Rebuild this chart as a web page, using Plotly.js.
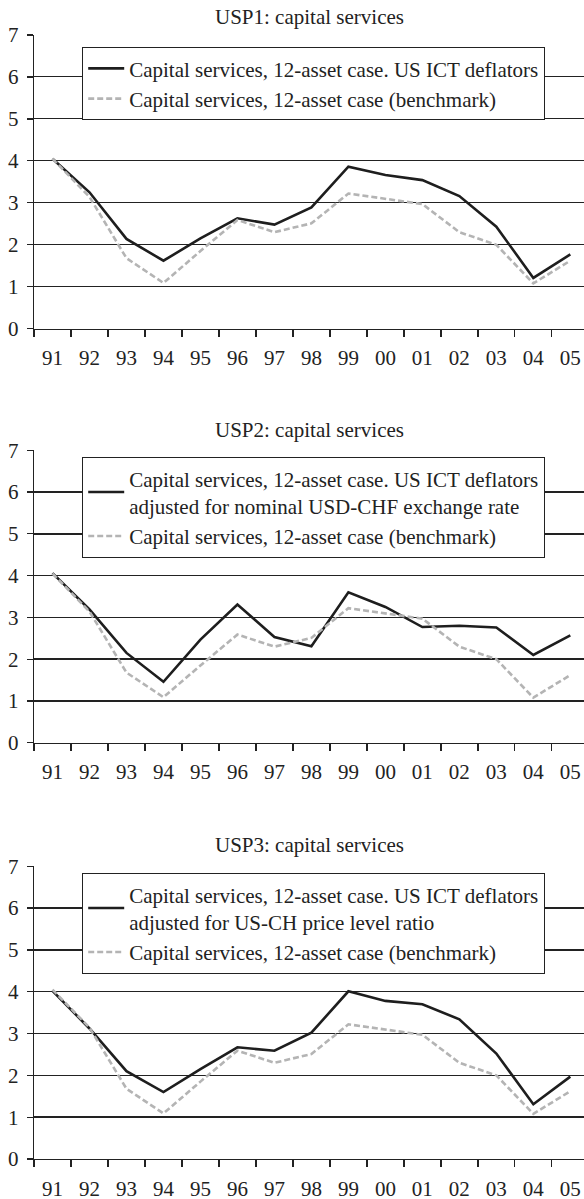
<!DOCTYPE html>
<html>
<head>
<meta charset="utf-8">
<script src="https://cdn.plot.ly/plotly-3.0.1.min.js"></script>
<style>html,body{margin:0;padding:0;background:#fff;}#chart{width:584px;height:1199px;}</style>
</head>
<body>
<div id="chart"></div>
<script>
const years = ["91","92","93","94","95","96","97","98","99","00","01","02","03","04","05"];
const benchmark = [4.05, 3.14, 1.68, 1.09, 1.85, 2.59, 2.30, 2.51, 3.22, 3.09, 2.97, 2.30, 2.00, 1.08, 1.62];
const usp1 = [4.05, 3.25, 2.14, 1.62, 2.15, 2.63, 2.48, 2.89, 3.86, 3.66, 3.54, 3.16, 2.43, 1.21, 1.77];
const usp2 = [4.06, 3.19, 2.15, 1.46, 2.47, 3.31, 2.53, 2.31, 3.60, 3.25, 2.77, 2.80, 2.76, 2.10, 2.57];
const usp3 = [4.02, 3.12, 2.10, 1.60, 2.15, 2.67, 2.59, 3.02, 4.01, 3.78, 3.70, 3.34, 2.52, 1.31, 1.97];
const titles = ["USP1: capital services", "USP2: capital services", "USP3: capital services"];
const mainNames = [
  "Capital services, 12-asset case. US ICT deflators",
  "Capital services, 12-asset case. US ICT deflators<br>adjusted for nominal USD-CHF exchange rate",
  "Capital services, 12-asset case. US ICT deflators<br>adjusted for US-CH price level ratio"
];
const benchName = "Capital services, 12-asset case (benchmark)";

const FONT = "Liberation Serif, Times New Roman, serif";
const TXT = "#222";
const series = [usp1, usp2, usp3];
const H = 1199;
// pixel positions of y=0 and y=7 for each panel
const pix = [[328.7, 34.7], [742.8, 450], [1159, 866]];
const titleY = [17, 430, 845];
const legTop = [47, 457, 873];

const traces = [];
const layout = {
  width: 584, height: 1199,
  margin: {l: 34, r: 0, t: 0, b: 0},
  paper_bgcolor: "#fff", plot_bgcolor: "#fff",
  font: {family: FONT, size: 21, color: TXT},
  showlegend: true,
  annotations: []
};
for (let p = 0; p < 3; p++) {
  const sfx = p === 0 ? "" : String(p + 1);
  const leg = p === 0 ? "legend" : "legend" + (p + 1);
  traces.push({
    x: years, y: series[p], type: "scatter", mode: "lines",
    name: mainNames[p], xaxis: "x" + sfx, yaxis: "y" + sfx, legend: leg,
    line: {color: "#1e1e1e", width: 2.6}
  });
  traces.push({
    x: years, y: benchmark, type: "scatter", mode: "lines",
    name: benchName, xaxis: "x" + sfx, yaxis: "y" + sfx, legend: leg,
    line: {color: "#b4b4b4", width: 2.6, dash: "6px,3px"}
  });
  const dom = [(H - pix[p][0]) / H, (H - pix[p][1]) / H];
  layout["xaxis" + sfx] = {
    type: "category", categoryorder: "array", categoryarray: years,
    range: [-0.5, 14.37], anchor: "y" + sfx, domain: [0, 1],
    showgrid: false, zeroline: false, showline: true, linecolor: "#222", linewidth: 1.3,
    ticks: "outside", tickson: "boundaries", ticklen: 7, tickcolor: "#222", tickwidth: 1.3,
    ticklabelstandoff: 10,
    tickfont: {family: FONT, size: 21, color: TXT}, fixedrange: true
  };
  layout["yaxis" + sfx] = {
    range: [0, 7.005], dtick: 1, tick0: 0, anchor: "x" + sfx, domain: dom,
    showgrid: true, gridcolor: "#222", gridwidth: p === 0 ? 1.1 : 1.5,
    zeroline: false, showline: true, linecolor: "#222", linewidth: 1.3,
    ticks: "outside", ticklen: 6, tickcolor: "#222", tickwidth: 1.3,
    ticklabelstandoff: 4,
    tickfont: {family: FONT, size: 21, color: TXT}, fixedrange: true
  };
  layout[leg] = {
    x: (82 - 34) / 550, xanchor: "left",
    y: (H - legTop[p]) / H, yanchor: "top",
    bgcolor: "#fff", bordercolor: "#222", borderwidth: 1.2,
    font: {family: FONT, size: 21, color: TXT},
    itemwidth: 36,
    traceorder: "normal", tracegroupgap: 0
  };
  layout.annotations.push({
    text: titles[p], xref: "paper", yref: "paper",
    x: 0.5, y: (H - titleY[p]) / H, xanchor: "center", yanchor: "middle",
    showarrow: false, font: {family: FONT, size: 21, color: TXT}
  });
}
Plotly.newPlot("chart", traces, layout, {displayModeBar: false, staticPlot: true});
</script>
</body>
</html>
